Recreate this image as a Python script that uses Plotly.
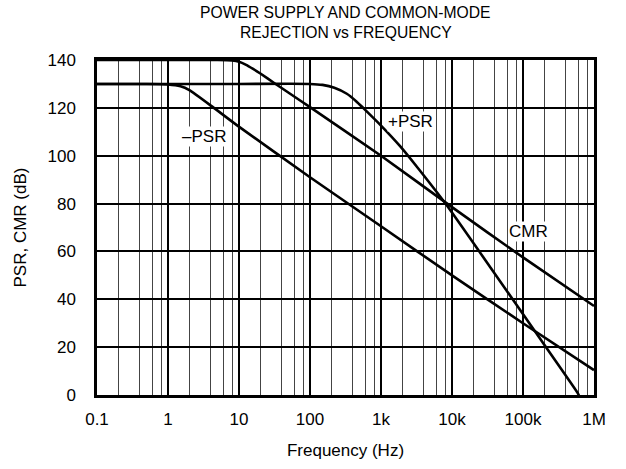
import numpy as np
import plotly.graph_objects as go

# ---- data ----
cmr_f = [0.1, 1, 5, 8, 10, 12.6, 15.8, 20, 31.6, 50, 100, 1e3, 1e4, 1e5, 1e6]
cmr_db = [140, 140, 140, 139.8, 139.3, 138, 136.3, 134.35, 130.3, 126.3, 120.3, 100, 78.5, 57.5, 37.2]

ppsr_f = [0.1, 10, 100, 150, 220, 330, 450, 560, 1000, 1870, 3200, 8000, 35000, 148000, 590000, 620000]
ppsr_db = [130, 130, 130, 129.6, 128.4, 125.9, 122.7, 120, 112.6, 103.9, 95.4, 80.2, 53.2, 26.5, 0.8, -0.5]

npsr_f = [0.1, 0.5, 1, 1.5, 2, 4.2, 9.3, 100, 1e3, 1e4, 1e5, 1e6]
npsr_db = [130, 130, 129.8, 129, 127.4, 120.5, 112.8, 91, 70.5, 50, 30, 10.4]

x_tickvals = [0.1, 1, 10, 100, 1e3, 1e4, 1e5, 1e6]
x_ticktext = ["0.1", "1", "10", "100", "1k", "10k", "100k", "1M"]
x_minor = [m * d for d in [0.1, 1, 10, 100, 1e3, 1e4, 1e5] for m in (2, 4, 6, 8)]
y_tickvals = [0, 20, 40, 60, 80, 100, 120, 140]

labels = ["–PSR", "+PSR", "CMR"]
label_f = [3.2, 2600, 120000]
label_db = [108, 114.4, 68.3]

title_lines = ["POWER SUPPLY AND COMMON-MODE", "REJECTION vs FREQUENCY"]

FONT = "Liberation Sans, Arial, sans-serif"
W, H = 626, 469
L, T = 97, 60
R = W - 594
B = H - 395
plot_h = H - T - B

fig = go.Figure()
for f, db in [(cmr_f, cmr_db), (ppsr_f, ppsr_db), (npsr_f, npsr_db)]:
    fig.add_trace(go.Scatter(x=f, y=db, mode="lines",
                             line=dict(color="black", width=2.6, shape="spline", smoothing=0.5),
                             showlegend=False, hoverinfo="skip"))

for t, f, d in zip(labels, label_f, label_db):
    fig.add_annotation(x=np.log10(f), y=d, text=t, showarrow=False,
                       font=dict(family=FONT, size=17, color="black"),
                       bgcolor="white", borderpad=0)

# title lines (centres at y = 12.5 and 33 px from the top)
for txt, fy in zip(title_lines, [12.5, 33]):
    fig.add_annotation(xref="paper", yref="paper", x=0.5, y=1 + (T - fy) / plot_h,
                       xanchor="center", yanchor="middle", showarrow=False,
                       text=txt, font=dict(family=FONT, size=15.7, color="black"))

fig.update_layout(
    width=W, height=H,
    margin=dict(l=L, r=R, t=T, b=B, autoexpand=False),
    paper_bgcolor="white", plot_bgcolor="white",
    font=dict(family=FONT, size=17, color="black"),
)

fig.update_xaxes(
    type="log", range=[-1, 6], automargin=False,
    tickvals=x_tickvals, ticktext=x_ticktext,
    showgrid=True, gridcolor="black", gridwidth=2,
    minor=dict(tickmode="array", tickvals=x_minor, showgrid=True,
               gridcolor="#444444", gridwidth=1.3, ticks=""),
    showline=True, linecolor="black", linewidth=2.5, mirror=True,
    ticks="", ticklabelstandoff=7, zeroline=False,
    title=dict(text="Frequency (Hz)", font=dict(family=FONT, size=17), standoff=16),
)
fig.update_yaxes(
    range=[0, 140], tickvals=y_tickvals, automargin=False,
    showgrid=True, gridcolor="black", gridwidth=1.5,
    showline=True, linecolor="black", linewidth=2.5, mirror=True,
    ticks="", ticklabelstandoff=15, zeroline=False,
    title=dict(text="PSR, CMR (dB)", font=dict(family=FONT, size=17), standoff=17),
)

# remove the page's default body margin so the figure sits at the window's top-left
fig.write_html("out.html", config={"displayModeBar": False},
               post_script="document.body.style.margin='0';")
